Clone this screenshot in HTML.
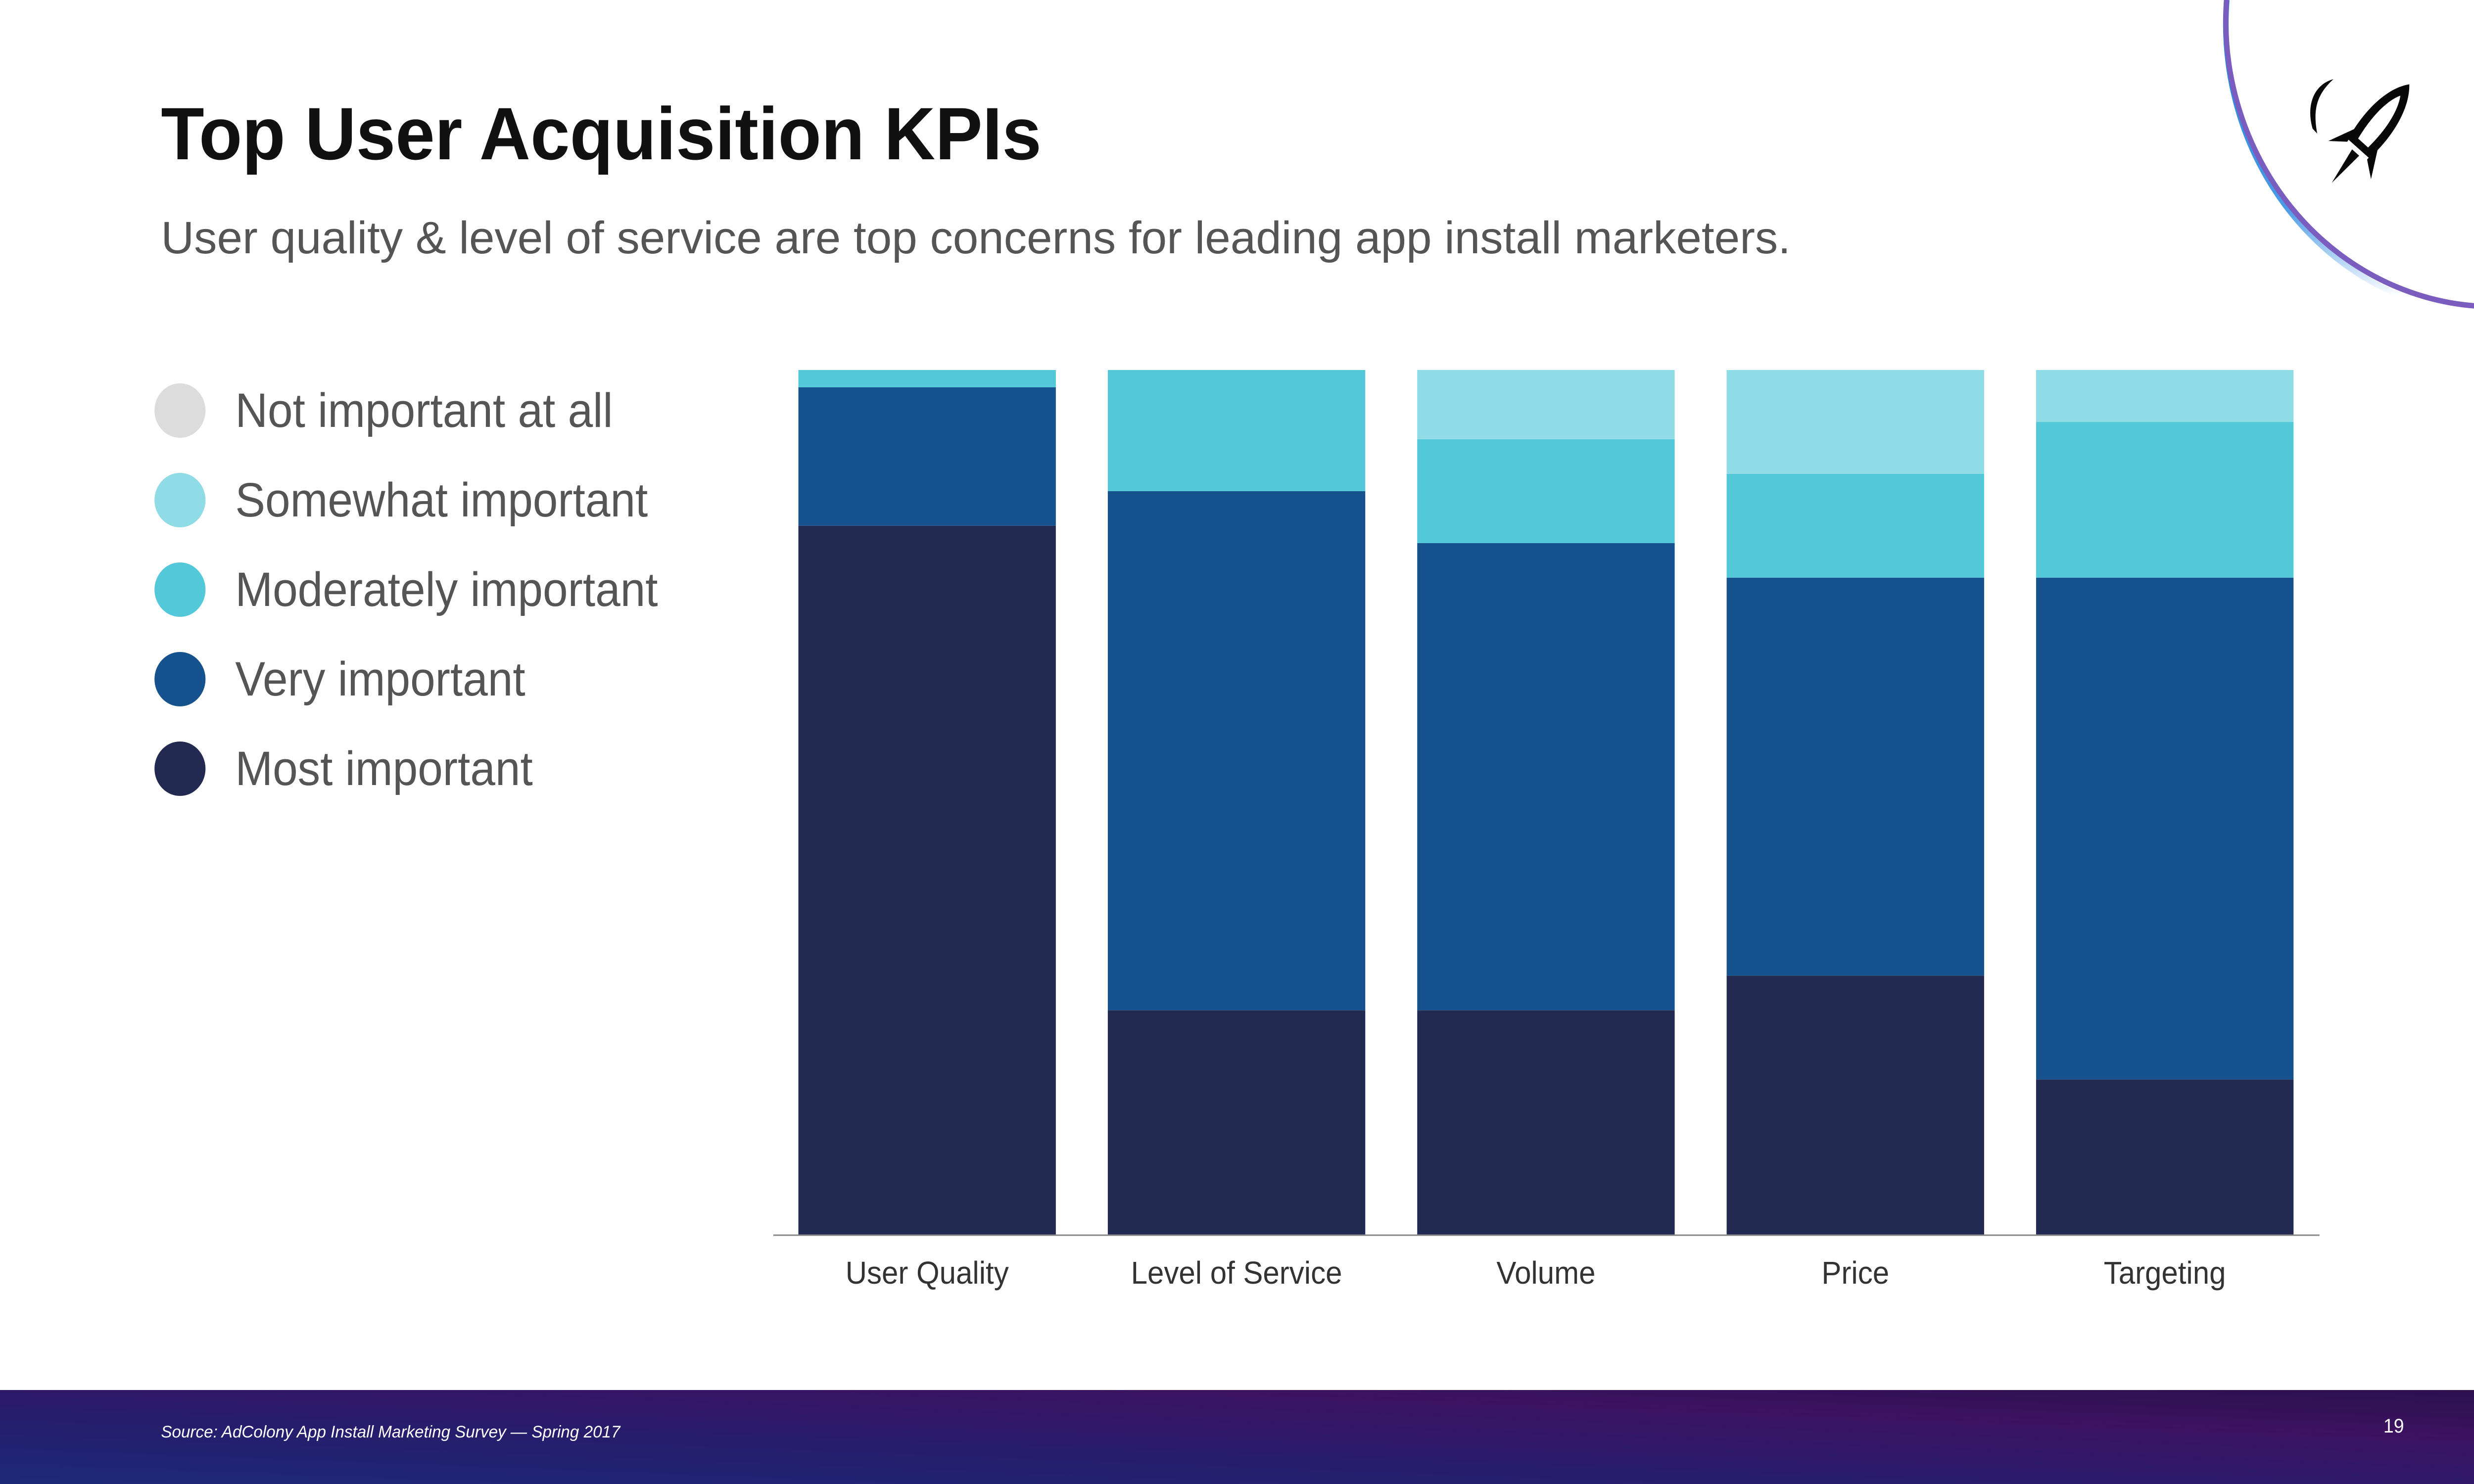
<!DOCTYPE html>
<html><head><meta charset="utf-8"><style>
html,body{margin:0;padding:0;background:#fff;width:100vw;height:100vh;overflow:hidden;}
svg{display:block;overflow:hidden;width:100vw;height:100vh;}
text{font-family:"Liberation Sans",sans-serif;}
</style></head><body>
<svg id="chart" viewBox="0 0 5333 3000" preserveAspectRatio="none" xmlns="http://www.w3.org/2000/svg">
<defs>
<linearGradient id="foot" x1="0" y1="1" x2="1" y2="0">
<stop offset="0" stop-color="#1a2a78"/><stop offset="0.45" stop-color="#2a1a6a"/><stop offset="0.75" stop-color="#3d1260"/><stop offset="1" stop-color="#2c1050"/>
</linearGradient>
<linearGradient id="arcg" x1="0" y1="0" x2="0" y2="1">
<stop offset="0" stop-color="#1e7fe0"/><stop offset="0.7" stop-color="#4a9ae6"/><stop offset="1" stop-color="#ffffff"/>
</linearGradient>
<clipPath id="frame"><rect x="0" y="0" width="5333" height="3000"/></clipPath>
</defs>
<g clip-path="url(#frame)">
<text x="347" y="322" font-size="150" font-weight="bold" fill="#111" textLength="1898" lengthAdjust="spacingAndGlyphs">Top User Acquisition KPIs</text>
<text x="347" y="512" font-size="92" fill="#555" textLength="3513" lengthAdjust="spacingAndGlyphs">User quality &amp; level of service are top concerns for leading app install marketers.</text>
<g>
<path d="M4800 0 A590 590 0 0 0 5180 600" fill="none" stroke="url(#arcg)" stroke-width="12"/>
<circle cx="5378" cy="40" r="580" fill="none" stroke="#7b5cbf" stroke-width="11"/>
<g transform="translate(5110,270) rotate(40)" fill="#080808">
<path d="M0 -130 C35 -90 40 -20 30 40 L-30 40 C-40 -20 -35 -90 0 -130 Z M0 -100 C-18 -70 -20 -20 -14 25 L14 25 C20 -20 18 -70 0 -100 Z" fill-rule="evenodd"/>
<path d="M-30 10 L-60 70 L-28 45 Z M30 10 L60 70 L28 45 Z"/>
<path d="M-10 50 L0 130 L10 50 Z"/>
</g>
<path d="M5030 160 C4990 170 4970 210 4985 260 L4995 270 C4985 220 4995 190 5030 160Z" fill="#080808"/>
</g>
<g id="legend"></g>
<g id="plot"></g>
<rect x="0" y="2810" width="5333" height="190" fill="url(#foot)"/>
<text x="347" y="2906" font-size="34" font-style="italic" fill="#fff" textLength="990" lengthAdjust="spacingAndGlyphs">Source:  AdColony App Install Marketing Survey — Spring 2017</text>
<text x="5160" y="2896" font-size="40" fill="#fff" text-anchor="middle">19</text>
</g>
</svg>
<script>
const categories = ["User Quality","Level of Service","Volume","Price","Targeting"];
const seriesNames = ["Most important","Very important","Moderately important","Somewhat important","Not important at all"];
const mostImportant = [82,26,26,30,18];
const veryImportant = [16,60,54,46,58];
const moderatelyImportant = [2,14,12,12,18];
const somewhatImportant = [0,0,8,12,6];
const notImportant = [0,0,0,0,0];
const colors = ["#232a52","#16538e","#52c8d8","#8fdce6","#dcdcdc"];
const series = [mostImportant,veryImportant,moderatelyImportant,somewhatImportant,notImportant];
const NS="http://www.w3.org/2000/svg";
const plotTop=748, plotBottom=2497, x0=1721, step=667, barW=555;
function y(v){return plotBottom-(v/100)*(plotBottom-plotTop);}
function xb(i){return x0+i*step;}
const plot=document.getElementById('plot');
categories.forEach((c,i)=>{
  let acc=0;
  series.forEach((s,k)=>{
    const v=s[i]; if(v<=0) return;
    const r=document.createElementNS(NS,'rect');
    r.setAttribute('x',xb(i));r.setAttribute('width',barW);
    r.setAttribute('y',y(acc+v));r.setAttribute('height',y(acc)-y(acc+v));
    r.setAttribute('fill',colors[k]);
    
    
    plot.appendChild(r);
    acc+=v;
  });
  const t=document.createElementNS(NS,'text');
  t.setAttribute('x',xb(i)+barW/2);t.setAttribute('y',2595);
  t.setAttribute('font-size','64');t.setAttribute('fill','#333');t.setAttribute('text-anchor','middle');
  t.textContent=c;
  
  
  plot.appendChild(t);
});
const ax=document.createElementNS(NS,'line');
ax.setAttribute('x1',1667);ax.setAttribute('x2',5000);ax.setAttribute('y1',plotBottom);ax.setAttribute('y2',plotBottom);
ax.setAttribute('stroke','#888');ax.setAttribute('stroke-width','3');


plot.appendChild(ax);
const legend=document.getElementById('legend');
const legOrder=[4,3,2,1,0];
legOrder.forEach((k,j)=>{
  const cy=830+j*181;
  const c=document.createElementNS(NS,'circle');
  c.setAttribute('cx',388);c.setAttribute('cy',cy);c.setAttribute('r',55);c.setAttribute('fill',colors[k]);
  
  
  legend.appendChild(c);
  const t=document.createElementNS(NS,'text');
  t.setAttribute('x',507);t.setAttribute('y',cy+33);t.setAttribute('font-size','97');t.setAttribute('fill','#555');
  t.textContent=seriesNames[k];
  
  
  legend.appendChild(t);
});
</script>
</body></html>
